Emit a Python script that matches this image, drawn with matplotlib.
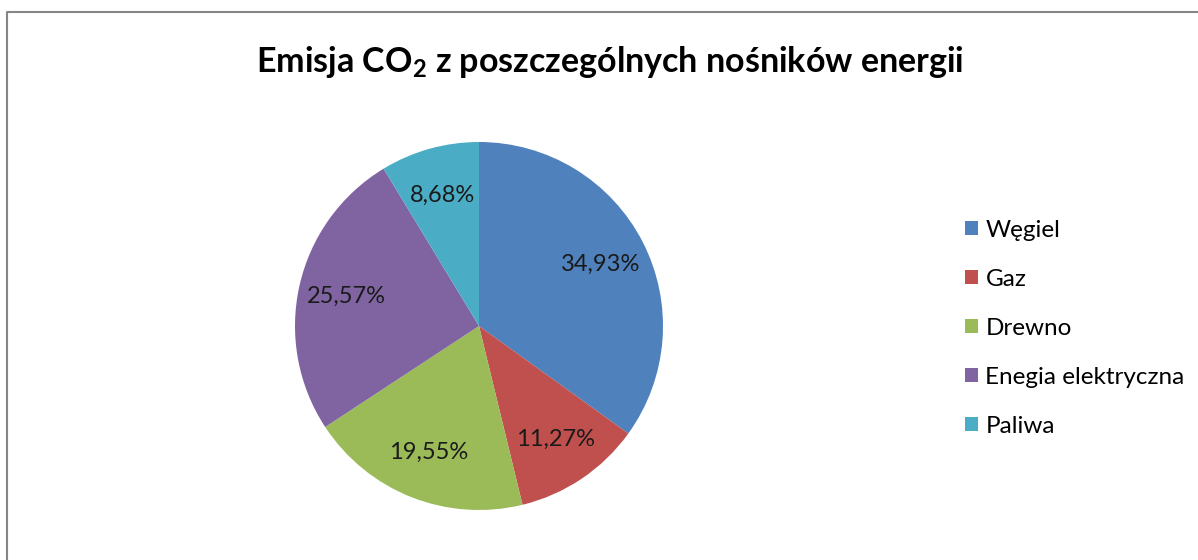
import matplotlib
matplotlib.use('Agg')
import matplotlib.pyplot as plt
from matplotlib.patches import Patch
from matplotlib.lines import Line2D

plt.rcParams['font.family'] = ['Lato', 'DejaVu Sans']
plt.rcParams['mathtext.fontset'] = 'custom'
plt.rcParams['mathtext.rm'] = 'Lato:bold'
plt.rcParams['mathtext.bf'] = 'Lato:bold'

labels = ['Węgiel', 'Gaz', 'Drewno', 'Enegia elektryczna', 'Paliwa']
values = [34.93, 11.27, 19.55, 25.57, 8.68]
colors = ['#4F81BD', '#C0504D', '#9BBB59', '#8064A2', '#4BACC6']

W, H = 1198, 560
fig = plt.figure(figsize=(W / 100, H / 100), dpi=100)

# pie axes: center at (479, 326) px, radius ~184 px
r = 184
cx, cy = 479, 326
ax = fig.add_axes([(cx - 1.25 * r) / W, (H - cy - 1.25 * r) / H, 2.5 * r / W, 2.5 * r / H])
wedges, texts, autotexts = ax.pie(values, colors=colors, startangle=90, counterclock=False,
                                  autopct=lambda p: ('%.2f%%' % p).replace('.', ','),
                                  pctdistance=0.74,
                                  wedgeprops=dict(linewidth=0),
                                  textprops=dict(fontsize=17, color='#1a1a1a'))
ax.set_xlim(-1.25, 1.25)
ax.set_ylim(-1.25, 1.25)
ax.set_aspect('equal')

fig.text(610 / W, 1 - 62 / H, r'Emisja CO$_\mathrm{2}$ z poszczególnych nośników energii',
         ha='center', va='center', fontsize=24.5, fontweight='bold')

handles = [Patch(facecolor=c, edgecolor='none') for c in colors]
fig.legend(handles, labels, loc='upper left', bbox_to_anchor=(955 / W, 1 - 210 / H),
           frameon=False, fontsize=17.5, handlelength=0.55, handleheight=0.55,
           handletextpad=0.3, labelspacing=1.15, borderaxespad=0)

# chart border (only top and left edges visible)
fig.add_artist(Line2D([7 / W, 7 / W, 1.01], [-0.01, 1 - 12 / H, 1 - 12 / H],
                      transform=fig.transFigure, color='#868686', linewidth=1.5))

fig.savefig('out.png', dpi=100, facecolor='white')
